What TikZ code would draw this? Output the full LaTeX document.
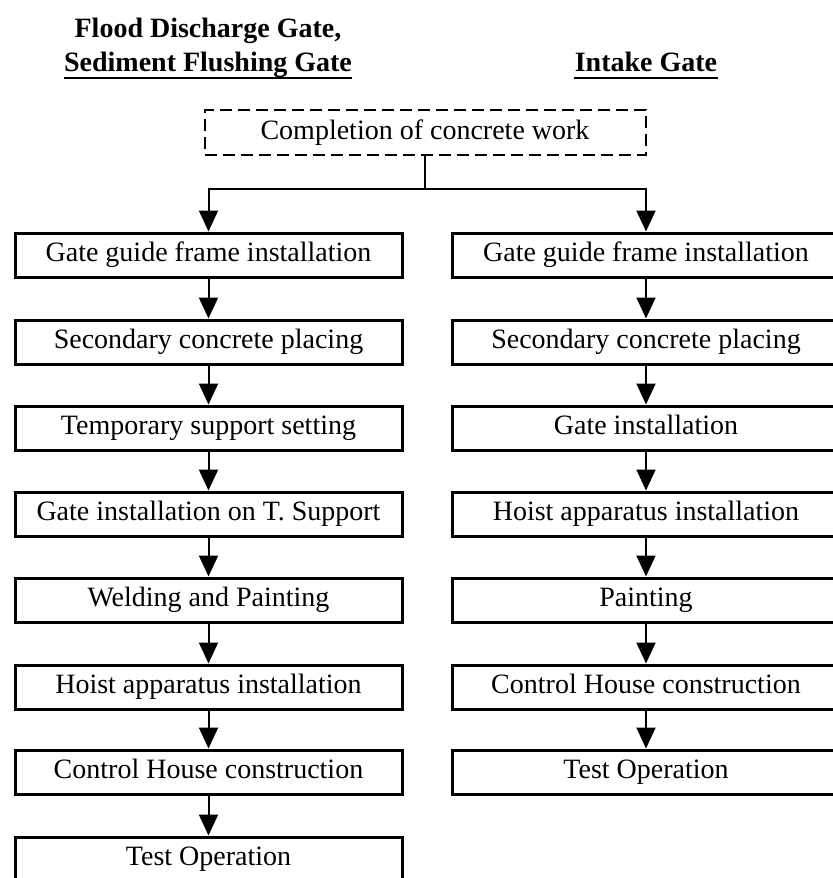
\documentclass[tikz,border=0pt]{standalone}
\usepackage{fontspec}
\setmainfont{Liberation Serif}
\usetikzlibrary{arrows.meta}
\begin{document}
\begin{tikzpicture}[x=0.5pt,y=-0.5pt,
  stepbox/.style={draw,line width=1.5pt,minimum width=193.5pt,minimum height=22pt,inner sep=0pt,text height=9.6pt,text depth=3pt,font=\fontsize{14}{16}\selectfont},
  startbox/.style={draw,line width=1pt,dash pattern=on 6pt off 3pt,minimum width=220.5pt,minimum height=22.5pt,inner sep=0pt,text height=9.6pt,text depth=3pt,font=\fontsize{14}{16}\selectfont},
  headtxt/.style={font=\bfseries\fontsize{14}{16}\selectfont,inner sep=0pt},
  uline/.style={line width=1pt},
  link/.style={line width=1pt},
  flow/.style={line width=1pt,-{Triangle[width=9.5pt,length=10.5pt]}}]
\useasboundingbox (0,0) rectangle (832,878);
\fill[white] (0,0) rectangle (832,878);
% headings
\node[headtxt,anchor=base] (h1) at (208,38) {Flood Discharge Gate,};
\node[headtxt,anchor=base] (h2) at (208,71) {Sediment Flushing Gate};
\node[headtxt,anchor=base] (h3) at (646,71) {Intake Gate};
\draw[uline] ([yshift=-3.5pt]h2.base west) -- ([yshift=-3.5pt]h2.base east);
\draw[uline] ([yshift=-3.5pt]h3.base west) -- ([yshift=-3.5pt]h3.base east);
% start
\node[startbox] (top) at (425,132.5) {Completion of concrete work};
% left column
\node[stepbox] (L1) at (208.5,255) {Gate guide frame installation};
\node[stepbox] (L2) at (208.5,342) {Secondary concrete placing};
\node[stepbox] (L3) at (208.5,428) {Temporary support setting};
\node[stepbox] (L4) at (208.5,514) {Gate installation on T. Support};
\node[stepbox] (L5) at (208.5,600) {Welding and Painting};
\node[stepbox] (L6) at (208.5,687) {Hoist apparatus installation};
\node[stepbox] (L7) at (208.5,772) {Control House construction};
\node[stepbox] (L8) at (208.5,859) {Test Operation};
% right column
\node[stepbox] (R1) at (646,255) {Gate guide frame installation};
\node[stepbox] (R2) at (646,342) {Secondary concrete placing};
\node[stepbox] (R3) at (646,428) {Gate installation};
\node[stepbox] (R4) at (646,514) {Hoist apparatus installation};
\node[stepbox] (R5) at (646,600) {Painting};
\node[stepbox] (R6) at (646,687) {Control House construction};
\node[stepbox] (R7) at (646,772) {Test Operation};
% split
\coordinate (split) at (top.south |- 0,189);
\draw[link] (top.south) -- (split);
\draw[flow] (split) -| (L1.north);
\draw[flow] (split) -| (R1.north);
% chains
\foreach \a/\b in {L1/L2,L2/L3,L3/L4,L4/L5,L5/L6,L6/L7,L7/L8,R1/R2,R2/R3,R3/R4,R4/R5,R5/R6,R6/R7}
  \draw[flow] (\a) -- (\b);
\end{tikzpicture}
\end{document}
